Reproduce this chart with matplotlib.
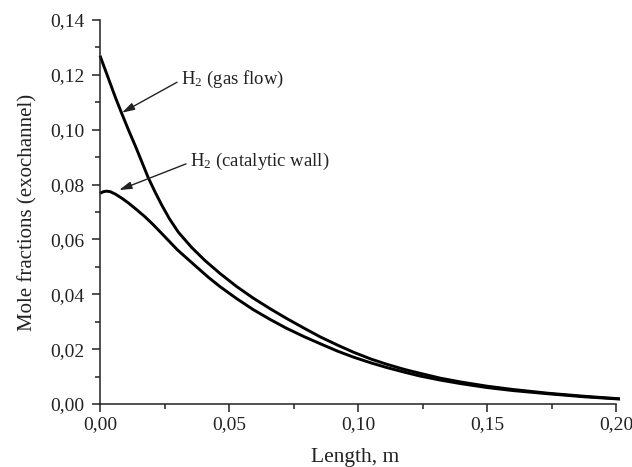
import matplotlib
matplotlib.use("Agg")
import matplotlib.pyplot as plt
from matplotlib.ticker import MultipleLocator, FuncFormatter

# Length along channel, m
length_gas = [0.0, 0.002, 0.004, 0.006, 0.0084, 0.011, 0.014, 0.0187, 0.0215, 0.024,
              0.027, 0.0304, 0.0355, 0.0407, 0.0465, 0.0530, 0.0594, 0.0660, 0.0723,
              0.0790, 0.0853, 0.0920, 0.0982, 0.1050, 0.1111, 0.1180, 0.124, 0.1320,
              0.140, 0.150, 0.160, 0.174, 0.188, 0.2015]
h2_gas_flow = [0.1270, 0.1219, 0.1168, 0.1117, 0.1060, 0.1000, 0.0934, 0.0825, 0.0770, 0.0724,
               0.0674, 0.0626, 0.0571, 0.0523, 0.0476, 0.0428, 0.0386, 0.0347, 0.0312,
               0.0277, 0.0245, 0.0215, 0.0189, 0.0164, 0.0145, 0.0126, 0.0112, 0.0094,
               0.0080, 0.0065, 0.0053, 0.0039, 0.0028, 0.0019]

length_wall = [0.0, 0.0013, 0.0026, 0.0040, 0.006, 0.0085, 0.011, 0.014, 0.0175, 0.0205,
               0.0239, 0.0300, 0.0368, 0.0420, 0.0465, 0.0530, 0.0594, 0.0660, 0.0723,
               0.0790, 0.0853, 0.0920, 0.0982, 0.1050, 0.1111, 0.1180, 0.124, 0.1320,
               0.140, 0.150, 0.160, 0.174, 0.188, 0.2015]
h2_catalytic_wall = [0.0768, 0.0774, 0.0776, 0.0774, 0.0765, 0.0750, 0.0733, 0.0710, 0.0682, 0.0655,
                     0.0622, 0.0562, 0.0505, 0.0462, 0.0428, 0.0384, 0.0344, 0.0308, 0.0276,
                     0.0246, 0.0220, 0.0193, 0.0171, 0.0150, 0.0133, 0.0116, 0.0102, 0.0087,
                     0.0074, 0.0060, 0.0049, 0.0037, 0.0026, 0.0018]

x_ticks = [0.00, 0.05, 0.10, 0.15, 0.20]
y_ticks = [0.00, 0.02, 0.04, 0.06, 0.08, 0.10, 0.12, 0.14]

plt.rcParams['font.family'] = ['Liberation Serif', 'DejaVu Serif']
plt.rcParams['mathtext.fontset'] = 'custom'
plt.rcParams['mathtext.rm'] = 'Liberation Serif'
plt.rcParams['mathtext.it'] = 'Liberation Serif:italic'

fig = plt.figure(figsize=(6.32, 4.67), dpi=100)
ax = fig.add_axes([100/632, 1-404/467, 516/632, 384/467])

ax.plot(length_gas, h2_gas_flow, color='black', lw=2.1, clip_on=False, solid_capstyle='butt')
ax.plot(length_wall, h2_catalytic_wall, color='black', lw=2.1, clip_on=False, solid_capstyle='butt')

ax.set_xlim(0, 0.20)
ax.set_ylim(0, 0.14)
ax.set_xticks(x_ticks)
ax.set_yticks(y_ticks)
ax.xaxis.set_minor_locator(MultipleLocator(0.025))
ax.yaxis.set_minor_locator(MultipleLocator(0.01))
fmt = FuncFormatter(lambda v, p: f"{v:.2f}".replace('.', ','))
ax.xaxis.set_major_formatter(fmt)
ax.yaxis.set_major_formatter(fmt)

for s in ['top', 'right']:
    ax.spines[s].set_visible(False)
for s in ['left', 'bottom']:
    ax.spines[s].set_linewidth(1.1)
    ax.spines[s].set_color('#222222')

ax.tick_params(which='major', direction='out', length=6, width=1.1, colors='#222222',
               labelsize=14, labelcolor='#222222', pad=5)
ax.tick_params(which='minor', direction='out', length=3.8, width=1.1, colors='#222222')
ax.tick_params(axis='x', which='major', pad=3)

ax.set_xlabel('Length, m', fontsize=15.5, color='#222222', labelpad=8)
ax.set_ylabel('Mole fractions (exochannel)', fontsize=15, color='#222222', labelpad=9)
ax.xaxis.set_label_coords(0.494, -0.115)

arrow = dict(arrowstyle='-|>,head_length=0.75,head_width=0.22', color='#222222', lw=1.0,
             mutation_scale=10, shrinkA=1, shrinkB=0, relpos=(0, 0.45))
ax.annotate('H$_2$ (gas flow)', xy=(0.0085, 0.1062), xytext=(0.0314, 0.1185),
            fontsize=13.5, color='#222222', va='center', ha='left', arrowprops=arrow,
            annotation_clip=False)
ax.annotate('H$_2$ (catalytic wall)', xy=(0.0074, 0.0780), xytext=(0.0349, 0.0885),
            fontsize=13.5, color='#222222', va='center', ha='left', arrowprops=arrow,
            annotation_clip=False)

fig.savefig('out.png', dpi=100)
